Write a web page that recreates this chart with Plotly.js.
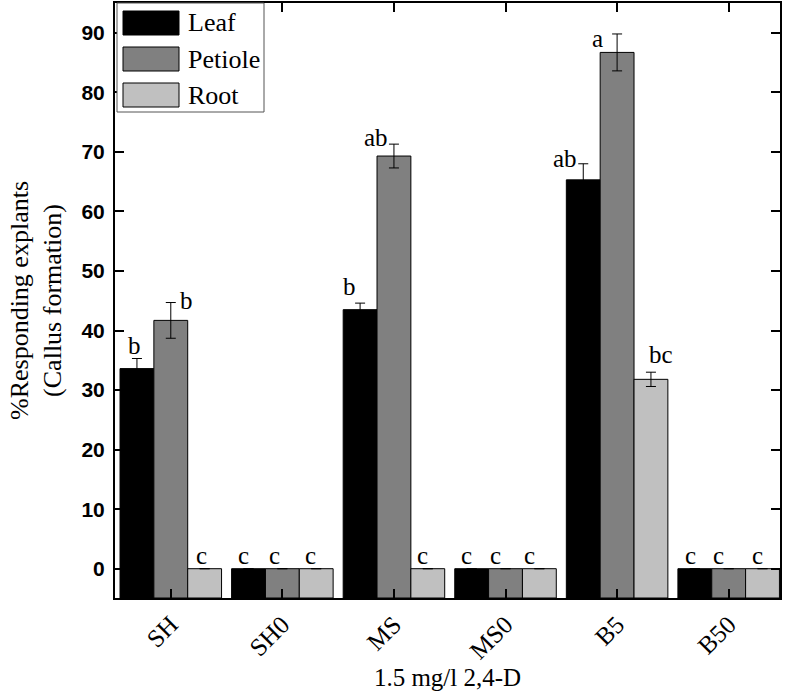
<!DOCTYPE html>
<html><head><meta charset="utf-8">
<script src="https://cdn.plot.ly/plotly-3.0.1.min.js"></script>
<style>html,body{margin:0;padding:0;background:#fff}#chart{width:786px;height:695px}</style>
</head><body><div id="chart"></div>
<script>
// ---- data ----
const categories = ['SH', 'SH0', 'MS', 'MS0', 'B5', 'B50'];
const seriesNames = ['Leaf', 'Petiole', 'Root'];
const leaf = [33.6, 0, 43.5, 0, 65.3, 0];
const leafErr = [1.7, 0, 1.1, 0, 2.7, 0];
const petiole = [41.7, 0, 69.3, 0, 86.7, 0];
const petioleErr = [3.0, 0, 2.0, 0, 3.1, 0];
const root = [0, 0, 0, 0, 31.8, 0];
const rootErr = [0, 0, 0, 0, 1.2, 0];
const leafLetters = ['b', 'c', 'b', 'c', 'ab', 'c'];
const petioleLetters = ['b', 'c', 'ab', 'c', 'a', 'c'];
const rootLetters = ['c', 'c', 'c', 'c', 'bc', 'c'];
const yTickVals = [0, 10, 20, 30, 40, 50, 60, 70, 80, 90];
const xTitle = '1.5 mg/l 2,4-D';
const yTitle = '%Responding explants<br>(Callus formation)';

// ---- style / layout config ----
const colors = ['#000000', '#808080', '#c0c0c0'];
const yMin = -4.92, yMax = 95;
const bargap = 0.09;
const serif = 'Liberation Serif, Times New Roman, serif';
const sans = 'Liberation Sans, Arial, sans-serif';
// label nudges in pixels (dx, dy above error-bar top)
const nudges = [
  {dx: [-2, -5, -11, -5, -18, -4], dy: [13, 13, 17, 13, 5, 13]},
  {dx: [16, -8, -18, -10, -20, -10], dy: [2, 13, 7, 13, -5, 13]},
  {dx: [-3, -6, -5, -10, 10, -5], dy: [13, 13, 13, 13, 18, 13]}
];

const M = {l: 115, r: 6, t: 3, b: 97};
const W = 786 - M.l - M.r, H = 695 - M.t - M.b;
const px = x => (x - M.l) / W;
const py = y => 1 - (y - M.t) / H;

const values = [leaf, petiole, root];
const errs = [leafErr, petioleErr, rootErr];
const letters = [leafLetters, petioleLetters, rootLetters];

const traces = values.map((vals, s) => ({
  type: 'bar',
  name: seriesNames[s],
  x: categories,
  base: vals.map(() => yMin),
  y: vals.map(v => v - yMin),
  marker: {color: colors[s], line: {color: '#000', width: 1}},
  error_y: {type: 'data', array: errs[s], visible: true, color: '#000', thickness: 1, width: 5},
  showlegend: false,
  hoverinfo: 'skip'
}));

const barW = (1 - bargap) / 3;
const annotations = [];
values.forEach((vals, s) => {
  vals.forEach((v, i) => {
    annotations.push({
      xref: 'x', yref: 'y',
      x: i + (s - 1) * barW, y: v + errs[s][i],
      text: letters[s][i], showarrow: false,
      xanchor: 'center', yanchor: 'middle',
      xshift: nudges[s].dx[i], yshift: nudges[s].dy[i],
      font: {family: serif, size: 25, color: '#000'}
    });
  });
});

// custom legend
const shapes = [{
  type: 'rect', xref: 'paper', yref: 'paper', layer: 'above',
  x0: px(117), x1: px(264), y0: py(112), y1: py(3),
  line: {color: '#555', width: 1}, fillcolor: '#fff'
}];
const swY = [11, 47, 83];
seriesNames.forEach((n, s) => {
  shapes.push({
    type: 'rect', xref: 'paper', yref: 'paper', layer: 'above',
    x0: px(123), x1: px(179), y0: py(swY[s] + 24), y1: py(swY[s]),
    line: {color: '#000', width: 1}, fillcolor: colors[s]
  });
  annotations.push({
    xref: 'paper', yref: 'paper', x: px(186), y: py(swY[s] + 12),
    xanchor: 'left', yanchor: 'middle', showarrow: false, text: n,
    font: {family: serif, size: 26, color: '#000'}
  });
});

const axisCommon = {
  showline: true, linecolor: '#000', linewidth: 2,
  ticks: 'inside', ticklen: 9, tickwidth: 2, tickcolor: '#000',
  showgrid: false, zeroline: false, layer: 'above traces'
};

const layout = {
  width: 786, height: 695,
  margin: M,
  paper_bgcolor: '#fff', plot_bgcolor: '#fff',
  barmode: 'group', bargap: bargap, bargroupgap: 0,
  showlegend: false,
  xaxis: Object.assign({}, axisCommon, {
    type: 'category', range: [-0.5, 5.46], mirror: 'ticks',
    tickangle: -45,
    tickfont: {family: serif, size: 25, color: '#000'},
    title: {text: xTitle, font: {family: serif, size: 25, color: '#000'}, standoff: 5}
  }),
  yaxis: Object.assign({}, axisCommon, {
    range: [yMin, yMax], mirror: 'ticks',
    tickmode: 'array', tickvals: yTickVals, ticktext: yTickVals.map(String),
    ticklabelstandoff: 4,
    tickfont: {family: sans, size: 21, color: '#000', weight: 'bold'},
    title: {text: yTitle, font: {family: serif, size: 26, color: '#000'}, standoff: 12}
  }),
  shapes: shapes,
  annotations: annotations
};

Plotly.newPlot('chart', traces, layout, {displayModeBar: false, staticPlot: true});
</script>
</body></html>
